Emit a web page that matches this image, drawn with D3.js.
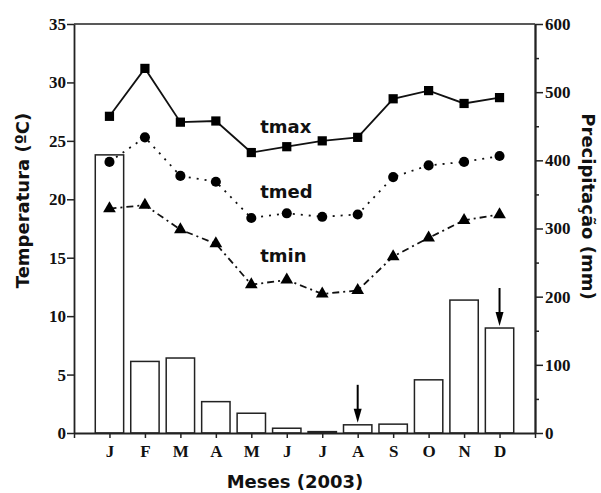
<!DOCTYPE html>
<html>
<head>
<meta charset="utf-8">
<script src="https://cdn.jsdelivr.net/npm/d3@7"></script>
<style>
  body { margin: 0; background: #fff; }
  svg { display: block; }
  .serif { font-family: "Liberation Serif", "Times New Roman", serif; font-weight: bold; }
  .sans { font-family: "DejaVu Sans", Verdana, sans-serif; font-weight: bold; }
</style>
</head>
<body>
<div id="chart"></div>
<script>
'use strict';

// data
const months = ["J", "F", "M", "A", "M", "J", "J", "A", "S", "O", "N", "D"];
const precip = [408, 105, 110, 46, 29, 7, 2, 12, 13, 78, 195, 154];   // mm
const tmax = [27.1, 31.2, 26.6, 26.7, 24.0, 24.5, 25.0, 25.3, 28.6, 29.3, 28.2, 28.7];
const tmed = [23.2, 25.3, 22.0, 21.5, 18.4, 18.8, 18.5, 18.7, 21.9, 22.9, 23.2, 23.7];
const tmin = [19.2, 19.5, 17.4, 16.2, 12.7, 13.1, 11.9, 12.2, 15.1, 16.7, 18.2, 18.7];
const tempTicks = [0, 5, 10, 15, 20, 25, 30, 35];
const precipTicks = [0, 100, 200, 300, 400, 500, 600];
const precipMinor = [50, 150, 250, 350, 450, 550];
const arrowMonths = [8, 12];   // months marked with an arrow

const width = 601, height = 493;
const margin = { top: 24, right: 66, bottom: 60, left: 74 };
const innerW = width - margin.left - margin.right;
const innerH = height - margin.top - margin.bottom;

const svg = d3.select("#chart").append("svg")
	.attr("width", width)
	.attr("height", height);

const g = svg.append("g")
	.attr("transform", `translate(${margin.left},${margin.top})`);

const x = d3.scaleLinear().domain([0, 13]).range([0, innerW]);
const yT = d3.scaleLinear().domain([0, 35]).range([innerH, 0]);
const yP = d3.scaleLinear().domain([0, 600]).range([innerH, 0]);

const barW = 0.8 * (x(1) - x(0));

// bars (precipitation)
g.selectAll("rect.bar")
	.data(precip)
	.join("rect")
		.attr("class", "bar")
		.attr("x", (d, i) => x(i + 1) - barW / 2)
		.attr("y", d => yP(d))
		.attr("width", barW)
		.attr("height", d => innerH - yP(d))
		.attr("fill", "#fff")
		.attr("stroke", "#222")
		.attr("stroke-width", 1.5);

// top frame line
g.append("line")
	.attr("x1", 0).attr("x2", innerW)
	.attr("y1", 0).attr("y2", 0)
	.attr("stroke", "#222").attr("stroke-width", 1.5);

// axes
const styleAxis = sel => {
	sel.selectAll("path.domain").attr("stroke", "#222").attr("stroke-width", 1.8);
	sel.selectAll(".tick line").attr("stroke", "#222").attr("stroke-width", 1.5);
	sel.selectAll("text")
		.attr("class", "serif")
		.attr("font-size", 17)
		.attr("fill", "#111");
};

g.append("g")
	.attr("transform", `translate(0,${innerH})`)
	.call(d3.axisBottom(x)
		.tickValues(d3.range(0, 14))
		.tickFormat(i => (i >= 1 && i <= 12) ? months[i - 1] : "")
		.tickSize(5)
		.tickSizeOuter(0)
		.tickPadding(7))
	.call(styleAxis);

g.append("g")
	.call(d3.axisLeft(yT)
		.tickValues(tempTicks)
		.tickSize(7)
		.tickSizeOuter(0)
		.tickPadding(1))
	.call(styleAxis);

g.append("g")
	.attr("transform", `translate(${innerW},0)`)
	.call(d3.axisRight(yP)
		.tickValues(precipMinor)
		.tickSize(4)
		.tickSizeOuter(0)
		.tickFormat(""))
	.call(styleAxis);

g.append("g")
	.attr("transform", `translate(${innerW},0)`)
	.call(d3.axisRight(yP)
		.tickValues(precipTicks)
		.tickSize(8)
		.tickSizeOuter(0)
		.tickPadding(2))
	.call(styleAxis);

// temperature lines
const line = d3.line()
	.x((d, i) => x(i + 1))
	.y(d => yT(d));

const series = [
	{ values: tmax, dash: null, symbol: d3.symbolSquare, size: 85 },
	{ values: tmed, dash: "2,6", symbol: d3.symbolCircle, size: 80 },
	{ values: tmin, dash: "7,4,2,4", symbol: d3.symbolTriangle, size: 70 }
];

series.forEach(s => {
	g.append("path")
		.datum(s.values)
		.attr("d", line)
		.attr("fill", "none")
		.attr("stroke", "#111")
		.attr("stroke-width", 1.8)
		.attr("stroke-dasharray", s.dash);

	g.selectAll(null)
		.data(s.values)
		.join("path")
			.attr("transform", (d, i) => `translate(${x(i + 1)},${yT(d)})`)
			.attr("d", d3.symbol().type(s.symbol).size(s.size))
			.attr("fill", "#000");
});

// series labels
const labels = [
	{ text: "tmax", at: 5.25, temp: 25.7 },
	{ text: "tmed", at: 5.25, temp: 20.1 },
	{ text: "tmin", at: 5.25, temp: 14.6 }
];
g.selectAll("text.lbl")
	.data(labels)
	.join("text")
		.attr("class", "lbl sans")
		.attr("x", d => x(d.at))
		.attr("y", d => yT(d.temp))
		.attr("font-size", 18)
		.attr("fill", "#111")
		.text(d => d.text);

// arrows pointing at bars
const arrows = g.selectAll("g.arrow")
	.data(arrowMonths)
	.join("g")
		.attr("class", "arrow")
		.attr("transform", m => `translate(${x(m)},${yP(precip[m - 1]) - 2})`);
arrows.append("line")
	.attr("x1", 0).attr("x2", 0)
	.attr("y1", -38).attr("y2", -8)
	.attr("stroke", "#000").attr("stroke-width", 2);
arrows.append("path")
	.attr("d", "M-4,-14 L4,-14 L0,0 Z")
	.attr("fill", "#000");

// axis titles
svg.append("text")
	.attr("class", "sans")
	.attr("transform", `translate(29,${margin.top + innerH / 2 - 28}) rotate(-90)`)
	.attr("text-anchor", "middle")
	.attr("font-size", 18)
	.attr("fill", "#111")
	.text("Temperatura (ºC)");

svg.append("text")
	.attr("class", "sans")
	.attr("transform", `translate(582,${margin.top + innerH / 2 - 22}) rotate(90)`)
	.attr("text-anchor", "middle")
	.attr("font-size", 18)
	.attr("fill", "#111")
	.text("Precipitação (mm)");

svg.append("text")
	.attr("class", "sans")
	.attr("x", 295)
	.attr("y", 488)
	.attr("text-anchor", "middle")
	.attr("font-size", 18)
	.attr("fill", "#111")
	.text("Meses (2003)");
</script>
</body>
</html>
